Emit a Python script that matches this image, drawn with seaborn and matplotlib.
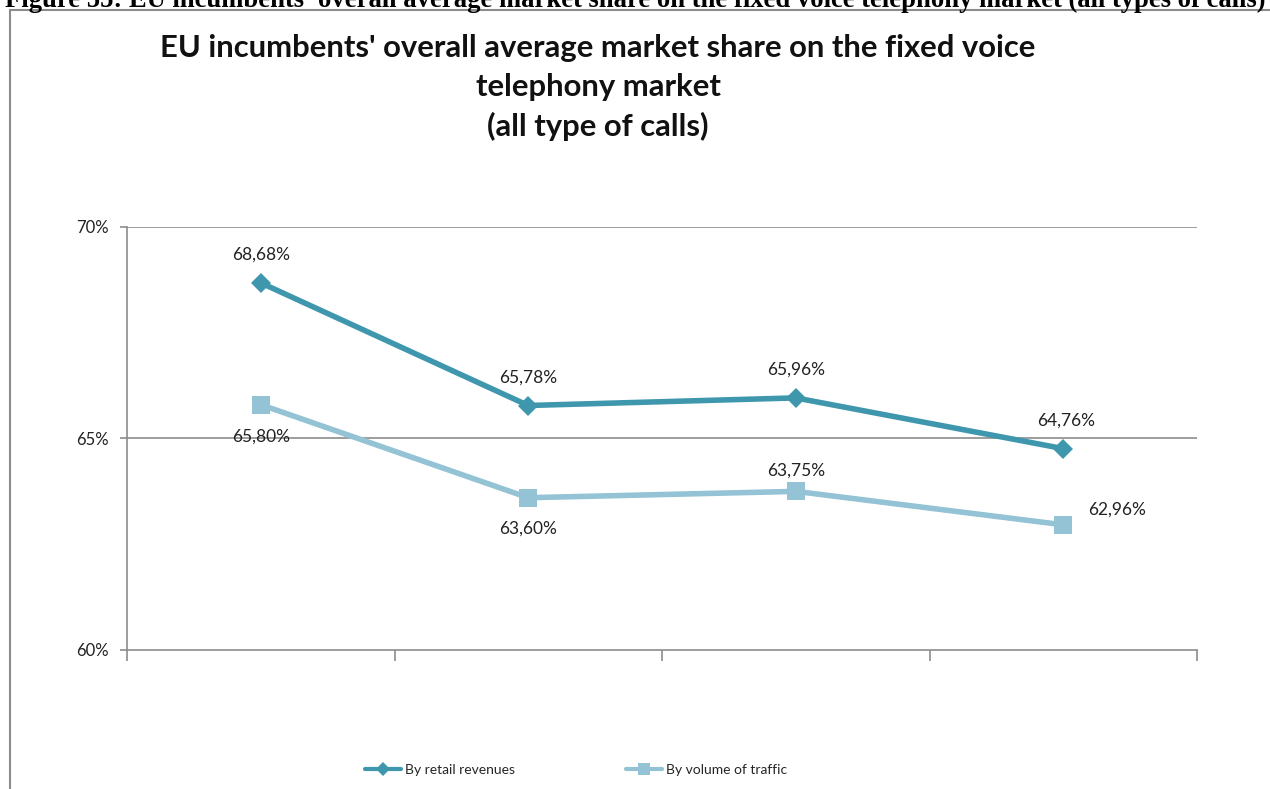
import matplotlib
matplotlib.use("Agg")
import matplotlib.pyplot as plt
from matplotlib.lines import Line2D
import seaborn as sns
import pandas as pd

periods = ["P1", "P2", "P3", "P4"]
retail_revenues = [68.68, 65.78, 65.96, 64.76]
volume_traffic = [65.80, 63.60, 63.75, 62.96]
series_names = ["By retail revenues", "By volume of traffic"]
y_ticks = [60, 65, 70]

sns.set_theme(style="white")
plt.rcParams["font.family"] = ["Lato", "DejaVu Sans"]

c_dark = "#3f97ae"
c_light = "#93c3d5"

rows = []
for i, p in enumerate(periods):
    rows.append({"pos": i + 0.5, "share": retail_revenues[i], "series": series_names[0]})
    rows.append({"pos": i + 0.5, "share": volume_traffic[i], "series": series_names[1]})
df = pd.DataFrame(rows)

fig = plt.figure(figsize=(12.7, 7.89), dpi=100)
ax = fig.add_axes([127 / 1270, 1 - 650 / 789, (1197 - 127) / 1270, (650 - 227) / 789])

sns.lineplot(data=df[df.series == series_names[0]], x="pos", y="share", ax=ax,
             color=c_dark, lw=4, marker="D", markersize=10, markeredgewidth=0,
             label=series_names[0], legend=False)
sns.lineplot(data=df[df.series == series_names[1]], x="pos", y="share", ax=ax,
             color=c_light, lw=4, marker="s", markersize=13, markeredgewidth=0,
             label=series_names[1], legend=False)

ax.set_xlim(0, len(periods))
ax.set_ylim(60, 70)
ax.set_yticks(y_ticks)
ax.set_yticklabels([f"{v}%" for v in y_ticks])
ax.set_xticks(range(len(periods) + 1))
ax.set_xticklabels([])
ax.set_xlabel("")
ax.set_ylabel("")
for v in y_ticks[1:]:
    ax.axhline(v, color="#8c8c8c", lw=1.2, zorder=0)
for s in ["top", "right"]:
    ax.spines[s].set_visible(False)
for s in ["left", "bottom"]:
    ax.spines[s].set_color("#8c8c8c")
    ax.spines[s].set_linewidth(1.2)
ax.tick_params(axis="y", length=5, width=1.2, color="#8c8c8c", direction="out",
               left=True, labelsize=12, pad=8, labelcolor="#222222")
ax.tick_params(axis="x", length=8, width=1.2, color="#8c8c8c", direction="out", bottom=True)

def fmt(v):
    return f"{v:.2f}".replace(".", ",") + "%"

# retail labels (above)
for i, v in enumerate(retail_revenues):
    ax.annotate(fmt(v), (i + 0.5, v), xytext=(2 if i == 3 else 0, 20), textcoords="offset points",
                ha="center", va="center", fontsize=12.5, color="#222222")
# volume labels
offsets = [(0, -23), (0, -22), (0, 15), (39, 11)]
for i, v in enumerate(volume_traffic):
    ox, oy = offsets[i]
    ax.annotate(fmt(v), (i + 0.5, v), xytext=(ox, oy), textcoords="offset points",
                ha="center", va="center", fontsize=12.5, color="#222222")

handles = [
    Line2D([0], [0], color=c_dark, lw=3, marker="D", markersize=7, markeredgewidth=0),
    Line2D([0], [0], color=c_light, lw=3, marker="s", markersize=8, markeredgewidth=0),
]
fig.legend(handles, series_names, loc="center",
           bbox_to_anchor=(576 / 1270, 1 - 770 / 789), ncol=2, frameon=False,
           fontsize=10, handlelength=2.6, columnspacing=8.0, handletextpad=0.3)

fig.text(598 / 1270, 1 - 34 / 789,
         "EU incumbents' overall average market share on the fixed voice\ntelephony market\n(all type of calls)",
         ha="center", va="top", fontsize=22.3, fontweight="bold", color="#111111",
         linespacing=1.46)

fig.text(0.5, 1 - 7 / 789,
         "Figure 55: EU incumbents' overall average market share on the fixed voice telephony market (all types of calls)",
         ha="center", va="baseline", fontsize=19.2, fontweight="bold",
         family=["Liberation Serif", "DejaVu Serif"], color="black")

# chart frame
fig.add_artist(Line2D([10 / 1270, 10 / 1270], [1 - 10 / 789, 0], color="#8c8c8c", lw=1.5,
                      transform=fig.transFigure))
fig.add_artist(Line2D([10 / 1270, 1], [1 - 10 / 789, 1 - 10 / 789], color="#8c8c8c", lw=1.5,
                      transform=fig.transFigure))

fig.savefig("out.png", dpi=100)
